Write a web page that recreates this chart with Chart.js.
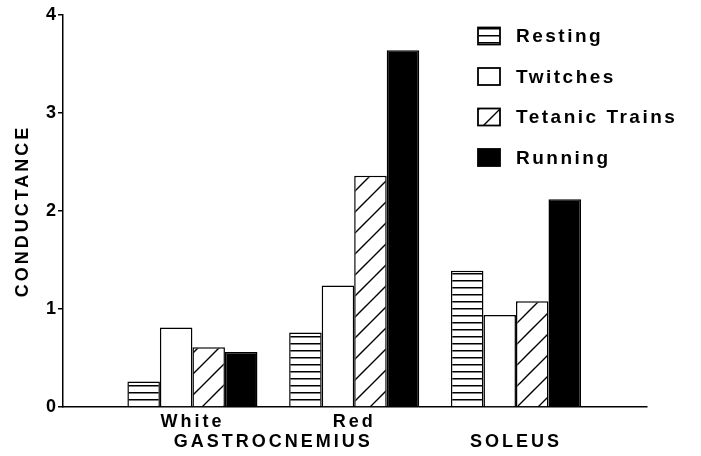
<!DOCTYPE html>
<html>
<head>
<meta charset="utf-8">
<script src="https://cdn.jsdelivr.net/npm/chart.js@4.4.1/dist/chart.umd.min.js"></script>
<style>
	html, body { margin: 0; padding: 0; background: #fff; }
</style>
</head>
<body>
<canvas id="conductance-chart" width="701" height="456"></canvas>
<script>
// Data
const categories = ['White', 'Red', 'Soleus'];
const tickLabels = [['White', ''], ['Red', ''], ['', 'SOLEUS']];
const groupLabel = 'GASTROCNEMIUS';
const seriesNames = ['Resting', 'Twitches', 'Tetanic Trains', 'Running'];
const resting = [0.26, 0.76, 1.39];
const twitches = [0.81, 1.24, 0.94];
const tetanic = [0.61, 2.36, 1.08];
const running = [0.56, 3.64, 2.12];
const yTicks = [0, 1, 2, 3, 4];

const family = "'Liberation Sans', Arial, sans-serif";
const boldFont = { family: family, size: 18, weight: 'bold', lineHeight: 1.1 };

// Fill patterns
function stripes() {
	const c = document.createElement('canvas');
	c.width = 8;
	c.height = 7;
	const g = c.getContext('2d');
	g.fillStyle = '#fff';
	g.fillRect(0, 0, 8, 7);
	g.fillStyle = '#000';
	g.fillRect(0, 0, 8, 1.5);
	return g.createPattern(c, 'repeat');
}

function hatch() {
	const s = 21;
	const c = document.createElement('canvas');
	c.width = s;
	c.height = s;
	const g = c.getContext('2d');
	g.fillStyle = '#fff';
	g.fillRect(0, 0, s, s);
	g.strokeStyle = '#000';
	g.lineWidth = 1.4;
	g.beginPath();
	g.moveTo(-2, s + 2);
	g.lineTo(s + 2, -2);
	g.moveTo(-2, 2);
	g.lineTo(2, -2);
	g.moveTo(s - 2, s + 2);
	g.lineTo(s + 2, s - 2);
	g.stroke();
	return g.createPattern(c, 'repeat');
}

const fills = [stripes(), '#fff', hatch(), '#000'];
const series = [resting, twitches, tetanic, running];

const datasets = series.map(function (vals, k) {
	return {
		label: seriesNames[k],
		data: vals.map(function (v, i) { return { x: i, y: v }; }),
		backgroundColor: fills[k],
		borderColor: '#000',
		borderWidth: 1.5,
		borderSkipped: 'bottom',
		categoryPercentage: 0.804,
		barPercentage: 1,
	};
});

// Letter spacing for the wide lettering
const spacing = {
	id: 'spacing',
	beforeUpdate(chart) { chart.ctx.letterSpacing = '3px'; },
	beforeDraw(chart) { chart.ctx.letterSpacing = '3px'; },
};

// GASTROCNEMIUS under White + Red
const groupTitle = {
	id: 'groupTitle',
	afterDraw(chart) {
		const xs = chart.scales.x;
		const ctx = chart.ctx;
		const lh = boldFont.size * boldFont.lineHeight;
		const cx = (xs.getPixelForValue(0) + xs.getPixelForValue(1)) / 2;
		const cy = xs.top + 5 + lh * 1.5;
		ctx.save();
		ctx.letterSpacing = '3px';
		ctx.font = 'bold 18px ' + family;
		ctx.fillStyle = '#000';
		ctx.textAlign = 'center';
		ctx.textBaseline = 'middle';
		ctx.fillText(groupLabel, cx, cy);
		ctx.restore();
	},
};

// Legend in the top right corner
const boxLegend = {
	id: 'boxLegend',
	afterDraw(chart) {
		const ctx = chart.ctx;
		ctx.save();
		ctx.letterSpacing = '2.5px';
		ctx.font = 'bold 19px ' + family;
		ctx.textBaseline = 'middle';
		ctx.textAlign = 'left';
		chart.data.datasets.forEach(function (ds, k) {
			const cy = 36 + k * 40.5;
			ctx.fillStyle = ds.backgroundColor;
			ctx.fillRect(478, cy - 8.5, 22, 17);
			ctx.strokeStyle = '#000';
			ctx.lineWidth = 1.8;
			ctx.strokeRect(478, cy - 8.5, 22, 17);
			ctx.fillStyle = '#000';
			ctx.fillText(ds.label, 516, cy + 1);
		});
		ctx.restore();
	},
};

new Chart(document.getElementById('conductance-chart'), {
	type: 'bar',
	data: { datasets: datasets },
	plugins: [spacing, groupTitle, boxLegend],
	options: {
		responsive: false,
		animation: false,
		devicePixelRatio: 1,
		layout: { padding: { top: 15, right: 54, left: 0, bottom: 0 } },
		plugins: {
			legend: { display: false },
			tooltip: { enabled: false },
		},
		scales: {
			x: {
				type: 'linear',
				offset: false,
				min: -0.8,
				max: 2.81,
				afterBuildTicks: function (s) {
					s.ticks = categories.map(function (c, i) { return { value: i }; });
				},
				afterFit: function (s) { s.height = 49; },
				border: { color: '#000', width: 1.5 },
				grid: { drawOnChartArea: false, drawTicks: false, color: '#000', lineWidth: 1.5 },
				ticks: {
					color: '#000',
					font: boldFont,
					padding: 5,
					maxRotation: 0,
					autoSkip: false,
					callback: function (v) { return tickLabels[v] || ''; },
				},
			},
			y: {
				min: 0,
				max: 4,
				afterBuildTicks: function (s) {
					s.ticks = yTicks.map(function (v) { return { value: v }; });
				},
				afterFit: function (s) { s.width = 63; },
				border: { color: '#000', width: 1.5 },
				grid: { drawOnChartArea: false, color: '#000', lineWidth: 1.5, tickLength: 5 },
				ticks: { color: '#000', font: boldFont, padding: -1 },
				title: {
					display: true,
					text: 'CONDUCTANCE',
					color: '#000',
					font: boldFont,
					padding: { top: 13, bottom: 0 },
				},
			},
		},
	},
});
</script>
</body>
</html>
